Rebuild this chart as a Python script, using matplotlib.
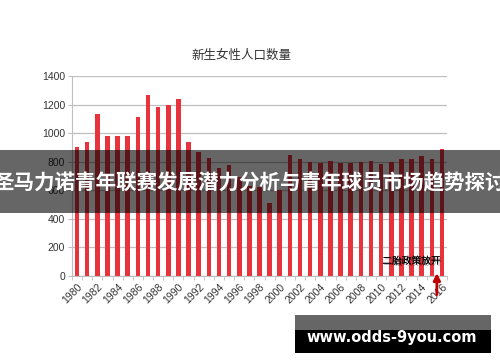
import matplotlib.pyplot as plt
import matplotlib.patheffects as pe
from matplotlib.patches import Rectangle

# data
years = list(range(1980, 2017))
births = [905, 937, 1133, 979, 983, 983, 1114, 1264, 1180, 1198, 1240, 937,
          869, 829, 757, 776, 692, 630, 620, 512, 600,
          845, 822, 799, 792, 804, 792, 794, 797, 804, 785, 797, 818, 818,
          841, 822, 888]
y_ticks = [0, 200, 400, 600, 800, 1000, 1200, 1400]

title = '新生女性人口数量'
banner = '圣马力诺青年联赛发展潜力分析与青年球员市场趋势探讨'
note = '二胎政策放开'
site = 'www.odds-9you.com'

plt.rcParams['font.family'] = ['Liberation Sans', 'Noto Sans CJK SC', 'DejaVu Sans']

fig = plt.figure(figsize=(5, 3.62), dpi=100)
ax = fig.add_axes([0.144, 0.2376, 0.75, 0.5524])

x = list(range(len(years)))
ax.bar(x, births, width=0.45, color='#e8323c', zorder=2)

ax.set_xlim(-0.5, len(years) - 0.5)
ax.set_ylim(0, 1400)
ax.set_yticks(y_ticks)
ax.set_yticklabels([str(v) for v in y_ticks], fontsize=7.5, color='#333333')
ax.set_xticks(x[::2])
ax.set_xticklabels([str(y) for y in years[::2]], fontsize=7.5, color='#333333',
                   rotation=45, ha='right', rotation_mode='anchor')
ax.set_xticks([i - 0.5 for i in range(len(years) + 1)], minor=True)
ax.tick_params(axis='x', which='major', length=0, pad=4)
ax.tick_params(axis='x', which='minor', length=3, color='#bfbfbf')
ax.tick_params(axis='y', length=3, color='#bfbfbf', pad=2)

ax.grid(axis='y', color='#bfbfbf', linewidth=0.9, zorder=1)
for side in ['top', 'right']:
    ax.spines[side].set_visible(False)
ax.spines['left'].set_color('#bfbfbf')
ax.spines['bottom'].set_color('#bfbfbf')

fig.text(0.483, 0.846, title, fontsize=9, color='#333333',
         family=['Noto Sans CJK SC'], ha='center', va='center')

# annotation with arrow
ax.text(33.0, 106, note, fontsize=7, ha='center', va='center', color='black',
        family=['Noto Sans CJK SC'], zorder=4,
        path_effects=[pe.withSimplePatchShadow(offset=(1, -1), alpha=0.35), pe.Normal()])
ax.annotate('', xy=(35.5, 40), xytext=(35.5, -150),
            arrowprops=dict(arrowstyle='-|>', color='#c00000', lw=2, mutation_scale=10),
            annotation_clip=False, zorder=4)

# dark banner over the chart
fig.patches.append(Rectangle((0, 0.4116), 1, 0.174, transform=fig.transFigure,
                             facecolor='black', alpha=0.6, zorder=10))
fig.text(0.5, 0.4945, banner, fontsize=14.8, color='white', weight='bold',
         family=['Noto Sans CJK SC'], ha='center', va='center', zorder=11)

# watermark box
fig.patches.append(Rectangle((0.59, 0.0884), 0.392, 0.0414, transform=fig.transFigure,
                             facecolor='#666666', zorder=10))
fig.patches.append(Rectangle((0.59, 0.0249), 0.392, 0.0635, transform=fig.transFigure,
                             facecolor='black', zorder=10))
fig.text(0.784, 0.0677, site, fontsize=10.5, color='white', weight='bold',
         family=['DejaVu Sans'], ha='center', va='center', zorder=11)

fig.savefig('out.png', dpi=100)
